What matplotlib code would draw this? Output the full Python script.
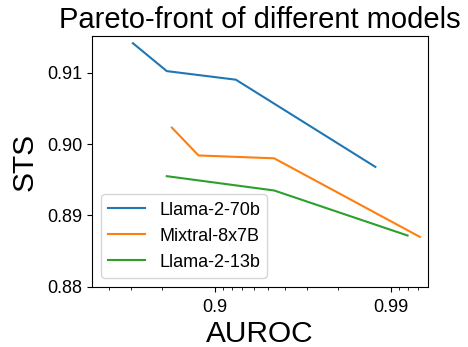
import numpy as np
import matplotlib
matplotlib.use("Agg")
import matplotlib.pyplot as plt
from matplotlib.ticker import FixedLocator, FixedFormatter, NullFormatter

plt.rcParams['font.family'] = ['Liberation Sans', 'DejaVu Sans']

# AUROC / STS
llama70_auroc = [0.707, 0.812, 0.924, 0.9878]
llama70_sts = [0.9141, 0.9102, 0.9090, 0.8968]
mixtral_auroc = [0.824, 0.876, 0.954, 0.9932]
mixtral_sts = [0.9023, 0.8984, 0.8980, 0.8870]
llama13_auroc = [0.812, 0.954, 0.9920]
llama13_sts = [0.8955, 0.8935, 0.8872]

major_ticks = [0.9, 0.99]
major_labels = ['0.9', '0.99']
minor_ticks = [0.6, 0.7, 0.8, 0.91, 0.92, 0.93, 0.94, 0.95, 0.96, 0.97, 0.98,
               0.991, 0.992, 0.993]
y_ticks = [0.88, 0.89, 0.90, 0.91]
y_labels = ['0.88', '0.89', '0.90', '0.91']


def fwd(p):
    p = np.asarray(p, dtype=float)
    return -np.log10(np.clip(1 - p, 1e-12, None))


def inv(u):
    return 1 - 10 ** (-np.asarray(u, dtype=float))


fig = plt.figure(figsize=(4.68, 3.47), dpi=100)
ax = fig.add_axes([0.197, 0.173, 0.718, 0.723])

ax.plot(llama70_auroc, llama70_sts, color='#1f77b4', lw=1.5, label='Llama-2-70b')
ax.plot(mixtral_auroc, mixtral_sts, color='#ff7f0e', lw=1.5, label='Mixtral-8x7B')
ax.plot(llama13_auroc, llama13_sts, color='#2ca02c', lw=1.5, label='Llama-2-13b')

ax.set_xscale('function', functions=(fwd, inv))
ax.set_xlim(0.5, 0.9939)
ax.set_ylim(0.88, 0.9151)
ax.xaxis.set_major_locator(FixedLocator(major_ticks))
ax.xaxis.set_major_formatter(FixedFormatter(major_labels))
ax.xaxis.set_minor_locator(FixedLocator(minor_ticks))
ax.xaxis.set_minor_formatter(NullFormatter())
ax.set_yticks(y_ticks)
ax.set_yticklabels(y_labels)
ax.tick_params(labelsize=13)
ax.tick_params(axis='x', pad=5)

ax.set_title('Pareto-front of different models', fontsize=21, pad=6)
ax.set_xlabel('AUROC', fontsize=21.5, labelpad=3)
ax.set_ylabel('STS', fontsize=21.5, labelpad=6)
ax.legend(loc='lower left', fontsize=13)

fig.savefig('out.png', dpi=100)
